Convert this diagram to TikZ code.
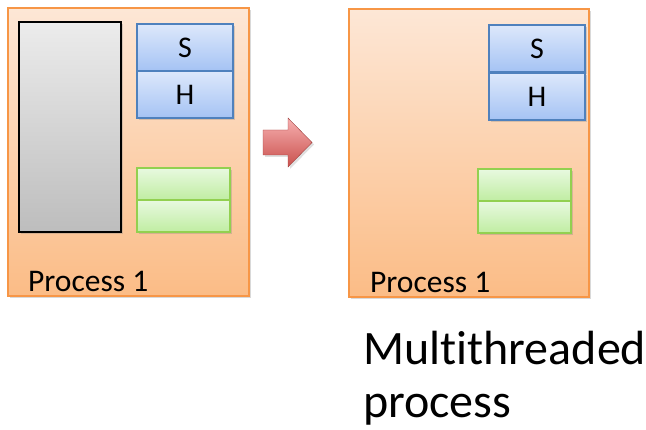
\documentclass[tikz,border=0pt]{standalone}
\usepackage{fontspec}
\setmainfont[Ligatures=NoCommon]{Carlito}
\usetikzlibrary{shadows}
\definecolor{procborder}{HTML}{F79646}
\definecolor{proctop}{HTML}{FDE7D6}
\definecolor{procbot}{HTML}{FBBC86}
\definecolor{bluebord}{HTML}{4F81BD}
\definecolor{bluetop}{HTML}{DDE8FB}
\definecolor{bluebot}{HTML}{A5C3F4}
\definecolor{greenbord}{HTML}{92D050}
\definecolor{greentop}{HTML}{E8F9E0}
\definecolor{greenbot}{HTML}{C0EDA2}
\definecolor{graytop}{HTML}{ECECEC}
\definecolor{graybot}{HTML}{BDBDBD}
\definecolor{arrowtop}{HTML}{F7B0B0}
\definecolor{arrowbot}{HTML}{C9504D}
\tikzset{
  shade/.style={drop shadow={opacity=0.3,shadow xshift=2pt,shadow yshift=-2.5pt}},
  procbox/.style={draw=procborder,line width=1.8pt,top color=proctop,bottom color=procbot,
    anchor=north west,inner sep=0pt,minimum width=#1,minimum height=288pt,shade},
  stackbox/.style={draw=bluebord,line width=1.8pt,top color=bluetop,bottom color=bluebot,
    anchor=north west,inner sep=0pt,minimum width=96pt,minimum height=47pt,shade,
    font=\fontsize{30}{32}\selectfont},
  regbox/.style={draw=greenbord,line width=1.8pt,top color=greentop,bottom color=greenbot,
    anchor=north west,inner sep=0pt,minimum width=93pt,minimum height=32pt,shade},
  codebox/.style={draw=black,line width=1.8pt,top color=graytop,bottom color=graybot,
    anchor=north west,inner sep=0pt,minimum width=102pt,minimum height=210pt,shade},
  proclabel/.style={anchor=base west,inner sep=0pt,font=\fontsize{31.5}{34}\selectfont},
  biglabel/.style={anchor=base west,inner sep=0pt,font=\fontsize{48}{55}\selectfont},
}
\begin{document}
\begin{tikzpicture}[x=1pt,y=-1pt]
\useasboundingbox (0,0) rectangle (646,430);
% left process
\node[procbox=241pt] (p1) at (7,7) {};
\node[codebox] (code) at (18,21) {};
\node[stackbox] (s1) at (136,23) {S};
\node[stackbox] (h1) at (136,70) {H};
\node[regbox] (g1a) at (136,167) {};
\node[regbox] (g1b) at (136,199) {};
\node[proclabel] (l1) at (28,292) {Process 1};
% arrow
\path[top color=arrowtop,bottom color=arrowbot,draw=arrowbot!80!black,line width=0.4pt,
  drop shadow={opacity=0.25,shadow xshift=2pt,shadow yshift=-2pt}]
  (263,130) -- (288,130) -- (288,118) -- (312,142.5) -- (288,167) -- (288,155) -- (263,155) -- cycle;
% right process
\node[procbox=240pt] (p2) at (348,8) {};
\node[stackbox] (s2) at (488,24) {S};
\node[stackbox] (h2) at (488,72) {H};
\node[regbox] (g2a) at (477,168) {};
\node[regbox] (g2b) at (477,200) {};
\node[proclabel] (l2) at (370,293) {Process 1};
\node[biglabel] (mt) at (363,365) {Multithreaded};
\node[biglabel] (pr) at (363,418) {process};
\end{tikzpicture}
\end{document}
